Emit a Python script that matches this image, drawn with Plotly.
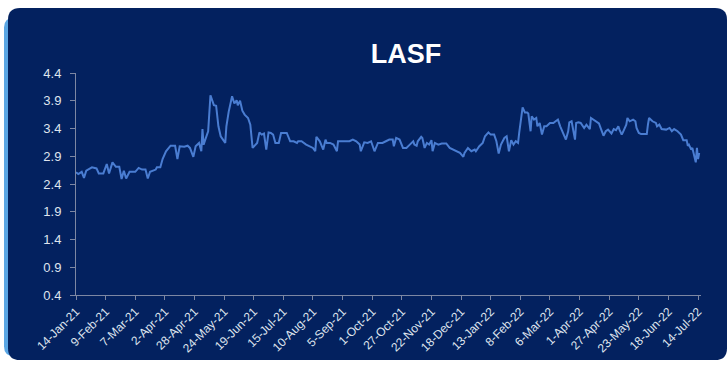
import plotly.graph_objects as go

# ---------------- data ----------------
dates = [
    "2021-01-14", "2021-01-16", "2021-01-19", "2021-01-21", "2021-01-23", "2021-01-28",
    "2021-02-01", "2021-02-03", "2021-02-07", "2021-02-10", "2021-02-12", "2021-02-15",
    "2021-02-18", "2021-02-21", "2021-02-23", "2021-02-25", "2021-02-27", "2021-03-02",
    "2021-03-07", "2021-03-10", "2021-03-13", "2021-03-16", "2021-03-18", "2021-03-20",
    "2021-03-25", "2021-03-26", "2021-03-29", "2021-03-31", "2021-04-03", "2021-04-07",
    "2021-04-11", "2021-04-13", "2021-04-15", "2021-04-19", "2021-04-22", "2021-04-24",
    "2021-04-27", "2021-04-29", "2021-05-02", "2021-05-04", "2021-05-05", "2021-05-06",
    "2021-05-08", "2021-05-10", "2021-05-12", "2021-05-15", "2021-05-17", "2021-05-19",
    "2021-05-21", "2021-05-25", "2021-05-26", "2021-05-28", "2021-05-31", "2021-06-02",
    "2021-06-04", "2021-06-05", "2021-06-07", "2021-06-09", "2021-06-11", "2021-06-14",
    "2021-06-16", "2021-06-18", "2021-06-22", "2021-06-24", "2021-06-26", "2021-06-28",
    "2021-06-30", "2021-07-02", "2021-07-04", "2021-07-06", "2021-07-08", "2021-07-11",
    "2021-07-13", "2021-07-18", "2021-07-21", "2021-07-24", "2021-07-27", "2021-07-28",
    "2021-07-31", "2021-08-04", "2021-08-10", "2021-08-12", "2021-08-13", "2021-08-16",
    "2021-08-19", "2021-08-21", "2021-08-22", "2021-08-25", "2021-08-28", "2021-08-31",
    "2021-09-01", "2021-09-06", "2021-09-11", "2021-09-14", "2021-09-17", "2021-09-20",
    "2021-09-21", "2021-09-24", "2021-09-27", "2021-09-30", "2021-10-03", "2021-10-06",
    "2021-10-10", "2021-10-13", "2021-10-16", "2021-10-19", "2021-10-20", "2021-10-22",
    "2021-10-25", "2021-10-28", "2021-10-31", "2021-11-03", "2021-11-06", "2021-11-07",
    "2021-11-09", "2021-11-10", "2021-11-13", "2021-11-14", "2021-11-16", "2021-11-18",
    "2021-11-20", "2021-11-22", "2021-11-23", "2021-11-25", "2021-11-28", "2021-12-01",
    "2021-12-05", "2021-12-08", "2021-12-11", "2021-12-14", "2021-12-17", "2021-12-20",
    "2021-12-21", "2021-12-24", "2021-12-27", "2021-12-30", "2021-12-31", "2022-01-03",
    "2022-01-06", "2022-01-08", "2022-01-11", "2022-01-13", "2022-01-16", "2022-01-18",
    "2022-01-20", "2022-01-22", "2022-01-25", "2022-01-27", "2022-01-29", "2022-01-31",
    "2022-02-02", "2022-02-04", "2022-02-06", "2022-02-07", "2022-02-10", "2022-02-12",
    "2022-02-14", "2022-02-15", "2022-02-17", "2022-02-18", "2022-02-20", "2022-02-22",
    "2022-02-23", "2022-02-25", "2022-02-27", "2022-03-01", "2022-03-03", "2022-03-06",
    "2022-03-09", "2022-03-11", "2022-03-13", "2022-03-15", "2022-03-17", "2022-03-20",
    "2022-03-22", "2022-03-23", "2022-03-25", "2022-03-28", "2022-03-29", "2022-03-31",
    "2022-04-02", "2022-04-05", "2022-04-07", "2022-04-10", "2022-04-11", "2022-04-13",
    "2022-04-16", "2022-04-18", "2022-04-20", "2022-04-22", "2022-04-24", "2022-04-26",
    "2022-04-29", "2022-05-01", "2022-05-03", "2022-05-05", "2022-05-06", "2022-05-08",
    "2022-05-09", "2022-05-12", "2022-05-13", "2022-05-15", "2022-05-18", "2022-05-20",
    "2022-05-21", "2022-05-23", "2022-05-25", "2022-05-30", "2022-05-31", "2022-06-01",
    "2022-06-04", "2022-06-07", "2022-06-08", "2022-06-10", "2022-06-12", "2022-06-16",
    "2022-06-19", "2022-06-21", "2022-06-23", "2022-06-26", "2022-06-29", "2022-07-01",
    "2022-07-04", "2022-07-05", "2022-07-06", "2022-07-08", "2022-07-09", "2022-07-11",
    "2022-07-12", "2022-07-13", "2022-07-14", "2022-07-15",
]
values = [
    2.61, 2.58, 2.62, 2.51, 2.64, 2.70,
    2.68, 2.59, 2.59, 2.76, 2.59, 2.79,
    2.71, 2.71, 2.49, 2.64, 2.50, 2.62,
    2.62, 2.69, 2.66, 2.66, 2.50, 2.62,
    2.66, 2.70, 2.70, 2.85, 2.99, 3.09,
    3.09, 2.85, 3.08, 3.07, 3.09, 3.05,
    2.89, 3.08, 3.14, 2.99, 3.39, 3.11,
    3.23, 3.35, 4.00, 3.82, 3.81, 3.44,
    3.26, 3.14, 3.44, 3.70, 3.98, 3.85,
    3.91, 3.82, 3.90, 3.72, 3.65, 3.59,
    3.47, 3.05, 3.14, 3.33, 3.29, 3.31,
    3.02, 3.33, 3.32, 3.29, 3.14, 3.14,
    3.32, 3.32, 3.17, 3.17, 3.14, 3.17,
    3.17, 3.11, 3.05, 2.99, 3.25, 3.17,
    3.02, 3.20, 3.14, 3.14, 3.11, 2.99,
    3.17, 3.17, 3.17, 3.20, 3.17, 3.11,
    2.99, 3.15, 3.14, 3.17, 2.99, 3.14,
    3.14, 3.17, 3.20, 3.20, 3.08, 3.23,
    3.20, 3.05, 3.05, 3.11, 3.17, 3.11,
    3.09, 3.17, 3.25, 3.23, 3.05, 3.14,
    3.11, 3.19, 2.99, 3.14, 3.11, 3.13,
    3.13, 3.05, 3.02, 2.99, 2.96, 2.89,
    2.96, 3.05, 2.99, 3.02, 2.99, 3.08,
    3.14, 3.26, 3.33, 3.29, 3.29, 3.17,
    2.95, 3.11, 3.23, 3.26, 2.99, 3.19,
    3.11, 3.17, 3.14, 3.32, 3.78, 3.69,
    3.69, 3.67, 3.35, 3.62, 3.56, 3.59,
    3.44, 3.50, 3.29, 3.44, 3.44, 3.50,
    3.50, 3.53, 3.56, 3.44, 3.35, 3.20,
    3.35, 3.51, 3.53, 3.20, 3.50, 3.51,
    3.50, 3.41, 3.47, 3.39, 3.59, 3.56,
    3.53, 3.49, 3.38, 3.27, 3.35, 3.38,
    3.31, 3.39, 3.37, 3.44, 3.38, 3.29,
    3.33, 3.47, 3.59, 3.53, 3.56, 3.53,
    3.41, 3.32, 3.30, 3.30, 3.47, 3.59,
    3.53, 3.50, 3.44, 3.47, 3.39, 3.38,
    3.41, 3.35, 3.39, 3.35, 3.29, 3.19,
    3.19, 3.09, 3.11, 3.02, 3.05, 2.90,
    2.79, 3.05, 2.85, 2.96,
]

tick_dates = [
    "2021-01-14", "2021-02-09", "2021-03-07", "2021-04-02", "2021-04-28", "2021-05-24",
    "2021-06-19", "2021-07-15", "2021-08-10", "2021-09-05", "2021-10-01", "2021-10-27",
    "2021-11-22", "2021-12-18", "2022-01-13", "2022-02-08", "2022-03-06", "2022-04-01",
    "2022-04-27", "2022-05-23", "2022-06-18", "2022-07-14",
]
tick_labels = [
    "14-Jan-21", "9-Feb-21", "7-Mar-21", "2-Apr-21", "28-Apr-21", "24-May-21",
    "19-Jun-21", "15-Jul-21", "10-Aug-21", "5-Sep-21", "1-Oct-21", "27-Oct-21",
    "22-Nov-21", "18-Dec-21", "13-Jan-22", "8-Feb-22", "6-Mar-22", "1-Apr-22",
    "27-Apr-22", "23-May-22", "18-Jun-22", "14-Jul-22",
]
y_ticks = [0.4, 0.9, 1.4, 1.9, 2.4, 2.9, 3.4, 3.9, 4.4]
y_tick_labels = ["0.4", "0.9", "1.4", "1.9", "2.4", "2.9", "3.4", "3.9", "4.4"]
chart_title = "LASF"

# ---------------- layout geometry (pixels) ----------------
W, H = 728, 367
L, R, T, B = 76, 701, 73, 298

def fx(px):
    return (px - L) / (R - L)

def fy(py):
    return (B - py) / (B - T)

def rrect(x0, y0, x1, y1, r):
    pts = [
        f"M {fx(x0 + r)} {fy(y0)}",
        f"L {fx(x1 - r)} {fy(y0)}",
        f"Q {fx(x1)} {fy(y0)} {fx(x1)} {fy(y0 + r)}",
        f"L {fx(x1)} {fy(y1 - r)}",
        f"Q {fx(x1)} {fy(y1)} {fx(x1 - r)} {fy(y1)}",
        f"L {fx(x0 + r)} {fy(y1)}",
        f"Q {fx(x0)} {fy(y1)} {fx(x0)} {fy(y1 - r)}",
        f"L {fx(x0)} {fy(y0 + r)}",
        f"Q {fx(x0)} {fy(y0)} {fx(x0 + r)} {fy(y0)}",
        "Z",
    ]
    return " ".join(pts)

NAVY = "#03215f"
AXIS = "#7d87a3"
TXT = "#dfe4ee"
FONT = "Arial, Liberation Sans, sans-serif"

fig = go.Figure()
fig.add_trace(go.Scatter(
    x=dates, y=values, mode="lines",
    line=dict(color="#4a7dd2", width=2),
    hoverinfo="x+y", showlegend=False,
))

shapes = [
    dict(type="path", xref="paper", yref="paper", layer="below",
         path=rrect(4, 17, 40, 360, 10), fillcolor="#5aa6e4", line=dict(width=0)),
    dict(type="path", xref="paper", yref="paper", layer="below",
         path=rrect(8, 7, 727, 364, 12), fillcolor=NAVY, line=dict(width=0)),
]

fig.update_layout(
    width=W, height=H,
    margin=dict(l=L, r=W - R, t=T, b=H - B, pad=0),
    paper_bgcolor="white",
    plot_bgcolor="rgba(0,0,0,0)",
    shapes=shapes,
    title=dict(text="<b>" + chart_title + "</b>", x=406 / W, xanchor="center",
               y=1 - 54 / H, yanchor="middle",
               font=dict(family=FONT, size=27, color="white")),
    font=dict(family=FONT, color=TXT),
    xaxis=dict(
        type="date",
        range=["2021-01-14", "2022-07-16 14:00"],
        tickmode="array", tickvals=tick_dates, ticktext=tick_labels,
        tickangle=-45, tickfont=dict(size=12, color=TXT, family=FONT),
        showgrid=False, zeroline=False,
        showline=True, linecolor=AXIS, linewidth=1,
        ticks="outside", ticklen=4, tickcolor=AXIS, tickwidth=1,
    ),
    yaxis=dict(
        range=[0.4, 4.4],
        tickmode="array", tickvals=y_ticks, ticktext=y_tick_labels,
        tickfont=dict(size=13, color=TXT, family=FONT),
        showgrid=False, zeroline=False,
        showline=True, linecolor=AXIS, linewidth=1,
        ticks="outside", ticklen=5, tickcolor=AXIS, tickwidth=1,
        ticklabelstandoff=6,
    ),
)

fig.write_html("out.html")
